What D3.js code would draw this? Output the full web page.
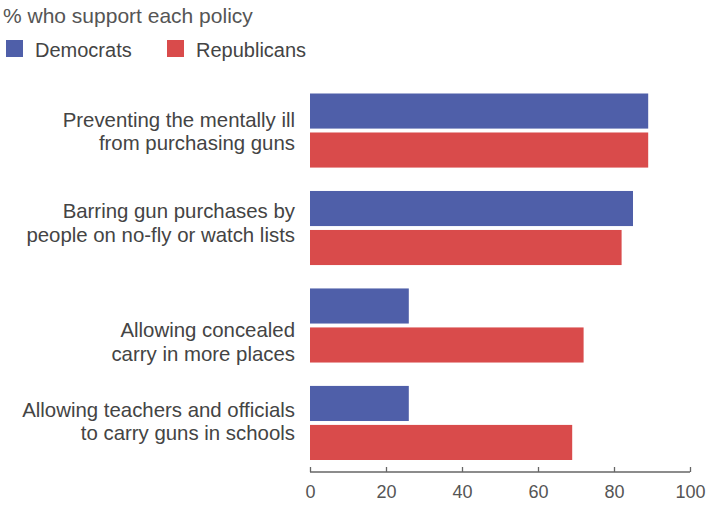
<!DOCTYPE html>
<html><head><meta charset="utf-8">
<script src="https://cdn.jsdelivr.net/npm/d3@7"></script>
<style>body{margin:0;background:#fff;} text{font-family:"Liberation Sans",Arial,Helvetica,sans-serif;}</style>
</head><body><svg id="c" width="716" height="508"></svg>
<script>
const categories = [
  ["Preventing the mentally ill", "from purchasing guns"],
  ["Barring gun purchases by", "people on no-fly or watch lists"],
  ["Allowing concealed", "carry in more places"],
  ["Allowing teachers and officials", "to carry guns in schools"]
];
const seriesNames = ["Democrats", "Republicans"];
const democrats = [89, 85, 26, 26];
const republicans = [89, 82, 72, 69];
const xTicks = [0, 20, 40, 60, 80, 100];
const colors = ["#4f5fa9", "#d94b4b"];
const title = "% who support each policy";
// layout: vertical offset of first label line baseline from group centre
const labelShift = [-3.6, -9.7, 11.7, -6];

const svg = d3.select("#c");
const x = d3.scaleLinear().domain([0, 100]).range([310, 690]);
const y0 = d3.scaleBand().domain(d3.range(categories.length)).range([93.5, 460]).paddingInner(0.24);
const y1 = d3.scaleBand().domain(seriesNames).range([0, y0.bandwidth()]).paddingInner(0.1);
const values = [democrats, republicans];

// title
svg.append("text").attr("x", 3).attr("y", 23).attr("font-size", 21).attr("fill", "#555").text(title);

// legend
const legX = [6, 167];
seriesNames.forEach((s, i) => {
  svg.append("rect").attr("x", legX[i]).attr("y", 40).attr("width", 17).attr("height", 17).attr("fill", colors[i]);
  svg.append("text").attr("x", legX[i] + 29).attr("y", 57).attr("font-size", 20).attr("fill", "#444").text(s);
});

// bars
categories.forEach((c, ci) => {
  const g = svg.append("g").attr("transform", `translate(0,${y0(ci)})`);
  seriesNames.forEach((s, si) => {
    g.append("rect").attr("x", x(0)).attr("y", y1(s))
      .attr("width", x(values[si][ci]) - x(0)).attr("height", y1.bandwidth())
      .attr("fill", colors[si]);
  });
  const cy = y0(ci) + y0.bandwidth() / 2;
  const t = svg.append("text").attr("text-anchor", "end").attr("font-size", 20.4).attr("fill", "#444");
  c.forEach((line, li) => {
    t.append("tspan").attr("x", 295).attr("y", cy + labelShift[ci] + li * 23.4).text(line);
  });
});

// axis
const axis = svg.append("g").attr("transform", "translate(0,472)")
  .call(d3.axisBottom(x).tickValues(xTicks).tickSize(-5).tickPadding(13));
axis.select(".domain").attr("stroke", "#666").attr("stroke-width", 1.3).attr("d", "M310,0H690");
axis.selectAll(".tick line").attr("stroke", "#666").attr("stroke-width", 1.3);
axis.selectAll(".tick text").attr("font-size", 18).attr("fill", "#555").attr("dy", "0.71em")
  .style("font-family", '"Liberation Sans",Arial,sans-serif');
</script></body></html>
